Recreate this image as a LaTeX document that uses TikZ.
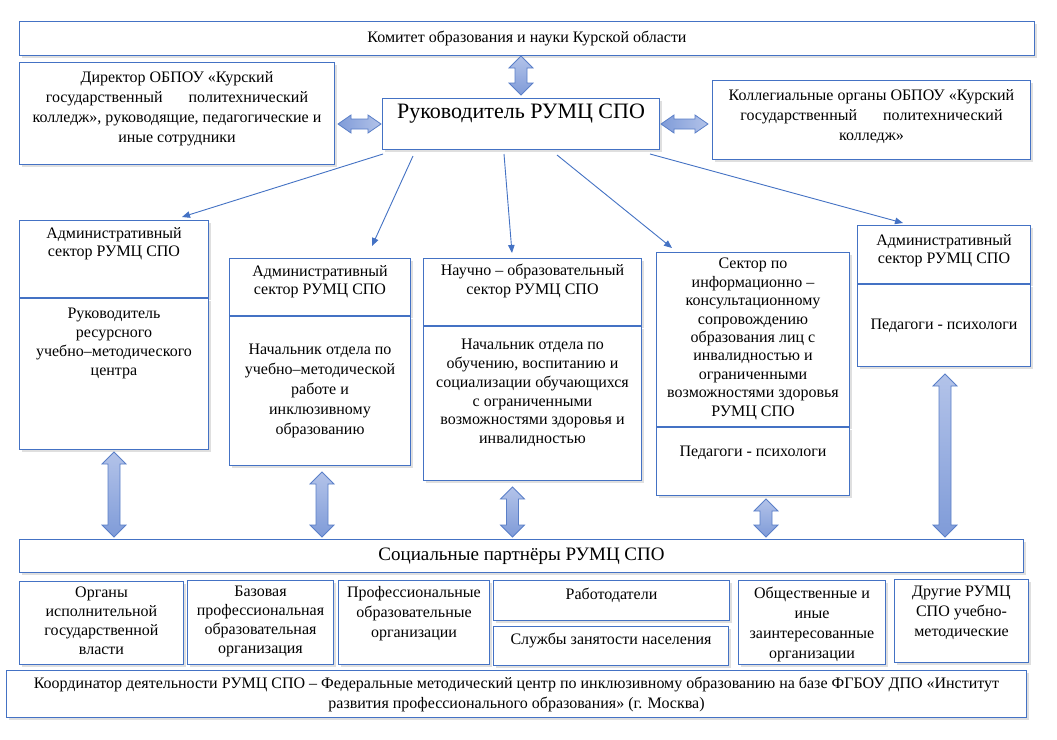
\documentclass[tikz,border=0pt]{standalone}
\usepackage{fontspec}
\setmainfont{Liberation Serif}
\usetikzlibrary{arrows.meta,calc,shadows}

\definecolor{bdr}{HTML}{4472C4}
\definecolor{fatdark}{HTML}{7F9BD8}
\definecolor{fatlight}{HTML}{B3C3E9}
\definecolor{fatline}{HTML}{5A7FC8}

\newcommand{\bodyfont}{\fontsize{16}{18.8}\selectfont}
\newcommand{\widefont}{\fontsize{16}{20}\selectfont}
\newcommand{\headfont}{\fontsize{22}{26}\selectfont}
\newcommand{\partnerfont}{\fontsize{19}{22}\selectfont}

% fat double arrows: vertical (top -> bottom) and horizontal (left -> right)
\newcommand{\vfat}[2]{%
  \path[fat, top color=fatlight, bottom color=fatdark] let \p1=#1, \p2=#2 in
    (\x1,\y1) -- ({\x1+12pt},{\y1-12pt}) -- ({\x1+6pt},{\y1-12pt})
    -- ({\x1+6pt},{\y2+12pt}) -- ({\x1+12pt},{\y2+12pt}) -- (\x1,\y2)
    -- ({\x1-12pt},{\y2+12pt}) -- ({\x1-6pt},{\y2+12pt})
    -- ({\x1-6pt},{\y1-12pt}) -- ({\x1-12pt},{\y1-12pt}) -- cycle;}
\newcommand{\hfat}[2]{%
  \path[fat, left color=fatdark, right color=fatlight] let \p1=#1, \p2=#2 in
    (\x1,\y1) -- ({\x1+13pt},{\y1+9pt}) -- ({\x1+13pt},{\y1+5pt})
    -- ({\x2-13pt},{\y1+5pt}) -- ({\x2-13pt},{\y1+9pt}) -- (\x2,\y1)
    -- ({\x2-13pt},{\y1-9pt}) -- ({\x2-13pt},{\y1-5pt})
    -- ({\x1+13pt},{\y1-5pt}) -- ({\x1+13pt},{\y1-9pt}) -- cycle;}

\begin{document}
\begin{tikzpicture}[
  x=1pt, y=-1pt,
  box/.style={draw=bdr, line width=1pt, fill=white, anchor=north west,
              align=center, font=\bodyfont, inner sep=2pt,
              drop shadow={opacity=0.25, shadow xshift=2.5pt, shadow yshift=-2.5pt}},
  txt/.style={font=\bodyfont, align=center, inner sep=0pt},
  link/.style={draw=bdr, line width=0.9pt, -{Triangle[length=8pt, width=6.5pt]}},
  fat/.style={draw=fatline, line width=0.8pt},
]
\useasboundingbox (0,0) rectangle (1057,739);
\fill[white] (0,0) rectangle (1057,739);

% ---- top: committee, director, head, collegial bodies -------------------
\node[box, minimum width=1015pt, minimum height=34pt] (komitet) at (19,21)
  {Комитет образования и науки Курской области};
\node[box, minimum width=315pt, minimum height=102pt,
  label={[txt, font=\widefont, below=9pt]north:{Директор ОБПОУ «Курский\\государственный\hspace{26pt}политехнический\\колледж», руководящие, педагогические и\\иные сотрудники}}]
  (director) at (19,62) {};
\node[box, minimum width=277pt, minimum height=51pt,
  label={[txt, font=\headfont, below=6pt]north:Руководитель РУМЦ СПО}]
  (head) at (382,98) {};
\node[box, minimum width=318pt, minimum height=79pt,
  label={[txt, font=\widefont, below=9pt]north:{Коллегиальные органы ОБПОУ «Курский\\государственный\hspace{26pt}политехнический\\колледж»}}]
  (college) at (712,80) {};

% ---- sectors (upper part / lower part) ---------------------------------
\node[box, minimum width=189pt, minimum height=77pt,
  label={[txt, below=7pt]north:{Административный\\сектор РУМЦ СПО}}] (admA) at (19,220) {};
\node[box, minimum width=189pt, minimum height=151pt,
  label={[txt, below=10pt]north:{Руководитель\\ресурсного\\учебно–методического\\центра}}]
  (admAlow) at (admA.south west) {};

\node[box, minimum width=181pt, minimum height=57pt,
  label={[txt, below=7pt]north:{Административный\\сектор РУМЦ СПО}}] (admB) at (229,258) {};
\node[box, minimum width=181pt, minimum height=149pt, font=\widefont] (admBlow) at (admB.south west)
  {Начальник отдела по\\учебно–методической\\работе и\\инклюзивному\\образованию};

\node[box, minimum width=218pt, minimum height=67pt,
  label={[txt, below=6pt]north:{Научно – образовательный\\сектор РУМЦ СПО}}] (admC) at (423,258) {};
\node[box, minimum width=218pt, minimum height=154pt,
  label={[txt, below=13pt]north:{Начальник отдела по\\обучению, воспитанию и\\социализации обучающихся\\с ограниченными\\возможностями здоровья и\\инвалидностью}}]
  (admClow) at (admC.south west) {};

\node[box, minimum width=193pt, minimum height=174pt,
  label={[txt, font=\fontsize{16}{18.4}\selectfont, below=6pt]north:{Сектор по\\информационно –\\консультационному\\сопровождению\\образования лиц с\\инвалидностью и\\ограниченными\\возможностями здоровья\\РУМЦ СПО}}]
  (admD) at (656,252) {};
\node[box, minimum width=193pt, minimum height=68pt,
  label={[txt, below=19pt]north:Педагоги - психологи}] (admDlow) at (admD.south west) {};

\node[box, minimum width=173pt, minimum height=58pt,
  label={[txt, below=9pt]north:{Административный\\сектор РУМЦ СПО}}] (admE) at (857,225) {};
\node[box, minimum width=173pt, minimum height=82pt] (admElow) at (admE.south west)
  {Педагоги - психологи};

% ---- social partners ---------------------------------------------------
\node[box, minimum width=1004pt, minimum height=33pt, font=\partnerfont] (social) at (19,539)
  {Социальные партнёры РУМЦ СПО};

\node[box, minimum width=164pt, minimum height=83pt,
  label={[txt, below=6pt]north:{Органы\\исполнительной\\государственной\\власти}}] (organy) at (19,581) {};
\node[box, minimum width=146pt, minimum height=84pt,
  label={[txt, below=6pt]north:{Базовая\\профессиональная\\образовательная\\организация}}] (bazovaya) at (187,580) {};
\node[box, minimum width=151pt, minimum height=84pt,
  label={[txt, font=\widefont, below=6pt]north:{Профессиональные\\образовательные\\организации}}] (prof) at (338,580) {};
\node[box, minimum width=236pt, minimum height=40pt,
  label={[txt, below=8pt]north:Работодатели}] (rabot) at (493,580) {};
\node[box, minimum width=235pt, minimum height=39pt,
  label={[txt, below=7pt]north:Службы занятости населения}] (sluzhby) at (493,626) {};
\node[box, minimum width=147pt, minimum height=84pt,
  label={[txt, font=\widefont, below=7pt]north:{Общественные и\\иные\\заинтересованные\\организации}}] (obsch) at (738,580) {};
\node[box, minimum width=134pt, minimum height=83pt,
  label={[txt, font=\widefont, below=7pt]north:{Другие РУМЦ\\СПО учебно-\\методические}}] (drugie) at (894,579) {};

% ---- coordinator -------------------------------------------------------
\node[box, minimum width=1020pt, minimum height=47pt, font=\widefont] (coord) at (6,670)
  {Координатор деятельности РУМЦ СПО – Федеральные методический центр по инклюзивному образованию на базе ФГБОУ ДПО «Институт\\развития профессионального образования» (г. Москва)};

% ---- thin arrows from the head -----------------------------------------
\draw[link] ($(head.south west)+(1,4)$)   -- ($(admA.north west)+(163,-3)$);
\draw[link] ($(head.south west)+(31,6)$)  -- ($(admB.north west)+(143,-12)$);
\draw[link] ($(head.south west)+(122,4)$) -- ($(admC.north west)+(89,-5)$);
\draw[link] ($(head.south west)+(175,5)$) -- ($(admD.north west)+(16,-4)$);
\draw[link] ($(head.south west)+(268,4)$) -- ($(admE.north west)+(46,-2)$);

% ---- fat double arrows -------------------------------------------------
\vfat{(head.north |- komitet.south)}{($(head.north)+(0,-3)$)}
\hfat{($(director.east |- head.west)+(3,0)$)}{($(head.west)+(-1,0)$)}
\hfat{($(head.east)+(1,0)$)}{($(college.west |- head.east)+(-4,0)$)}

\vfat{($(admAlow.south)+(0,2)$)}{($(admAlow.south |- social.north)+(0,-2)$)}
\vfat{($(admBlow.south)+(2,6)$)}{($(admBlow.south |- social.north)+(2,-2)$)}
\vfat{($(admClow.south)+(-20,6)$)}{($(admClow.south |- social.north)+(-20,-2)$)}
\vfat{($(admDlow.south)+(13,3)$)}{($(admDlow.south |- social.north)+(13,-2)$)}
\vfat{($(admElow.south)+(1,7)$)}{($(admElow.south |- social.north)+(1,-2)$)}

\end{tikzpicture}
\end{document}
